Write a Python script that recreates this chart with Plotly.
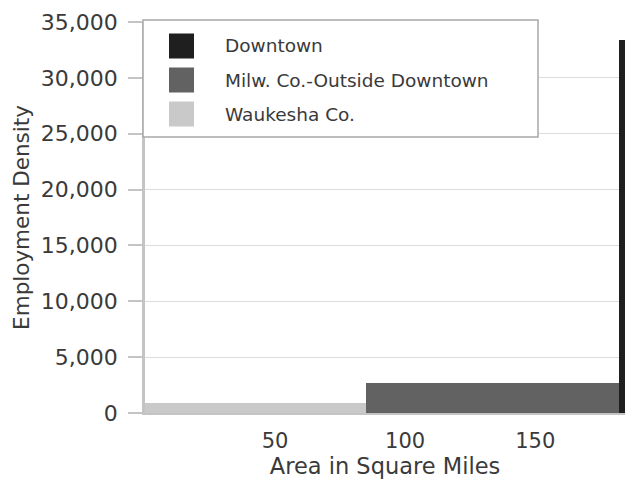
import plotly.graph_objects as go

# Employment density by area (variable-width bars: width = area, height = density)
regions = ["Waukesha Co.", "Milw. Co.-Outside Downtown", "Downtown"]
area_sq_mi = [85.0, 97.0, 2.5]
employment_density = [900, 2650, 33400]
bar_colors = ["#c9c9c9", "#626262", "#1f1f1f"]

legend_order = ["Downtown", "Milw. Co.-Outside Downtown", "Waukesha Co."]
x_ticks = [50, 100, 150]
y_ticks = [0, 5000, 10000, 15000, 20000, 25000, 30000, 35000]

# left edge of each bar = cumulative area of the bars before it
left_edges = []
running = 0.0
for w in area_sq_mi:
    left_edges.append(running)
    running += w

FONT = "DejaVu Sans"
TEXT = "#3a3a3a"

fig = go.Figure()
for name, x0, w, d, c in zip(regions, left_edges, area_sq_mi, employment_density, bar_colors):
    fig.add_trace(go.Bar(
        x=[x0], y=[d], width=[w], offset=0, name=name,
        marker=dict(color=c, line=dict(width=0)),
        showlegend=False,
    ))

W, H = 628, 480
ML, MR, MT, MB = 145, 3, 22, 67
PW, PH = W - ML - MR, H - MT - MB


def px_x(p):
    return (p - ML) / PW


def px_y(p):
    return (H - MB - p) / PH


shapes = [dict(
    type="rect", xref="paper", yref="paper",
    x0=px_x(143), x1=px_x(538), y0=px_y(137), y1=px_y(20),
    line=dict(color="#a8a8a8", width=1.5), fillcolor="white", layer="above",
)]
annotations = []
color_of = dict(zip(regions, bar_colors))
for i, name in enumerate(legend_order):
    cy = 46 + 34 * i
    shapes.append(dict(
        type="rect", xref="paper", yref="paper",
        x0=px_x(169), x1=px_x(194), y0=px_y(cy + 12.5), y1=px_y(cy - 12.5),
        line=dict(width=0), fillcolor=color_of[name], layer="above",
    ))
    annotations.append(dict(
        xref="paper", yref="paper", x=px_x(223), y=px_y(cy),
        xanchor="left", yanchor="middle", showarrow=False,
        text=name, font=dict(family=FONT, size=18.5, color=TEXT),
    ))

fig.update_layout(
    width=W, height=H,
    margin=dict(l=ML, r=MR, t=MT, b=MB, autoexpand=False),
    paper_bgcolor="white", plot_bgcolor="white",
    bargap=0,
    font=dict(family=FONT, color=TEXT),
    shapes=shapes, annotations=annotations,
    xaxis=dict(
        range=[0, running], tickvals=x_ticks, ticks="",
        showgrid=False, zeroline=False,
        showline=True, linecolor="#c4c4c4", linewidth=2,
        tickfont=dict(family=FONT, size=21, color=TEXT),
        ticklabelstandoff=8,
        title=dict(text="Area in Square Miles", standoff=4,
                   font=dict(family=FONT, size=22.5, color=TEXT)),
    ),
    yaxis=dict(
        range=[0, 35000], tickvals=y_ticks, tickformat=",d",
        ticks="outside", ticklen=14, tickcolor="#c4c4c4", tickwidth=1.5,
        showgrid=True, gridcolor="#dcdcdc", gridwidth=1, zeroline=False,
        showline=True, linecolor="#c4c4c4", linewidth=2.5,
        tickfont=dict(family=FONT, size=22, color=TEXT),
        ticklabelstandoff=6,
        title=dict(text="Employment Density", standoff=6,
                   font=dict(family=FONT, size=21.5, color=TEXT)),
    ),
)

fig.write_html("out.html")
